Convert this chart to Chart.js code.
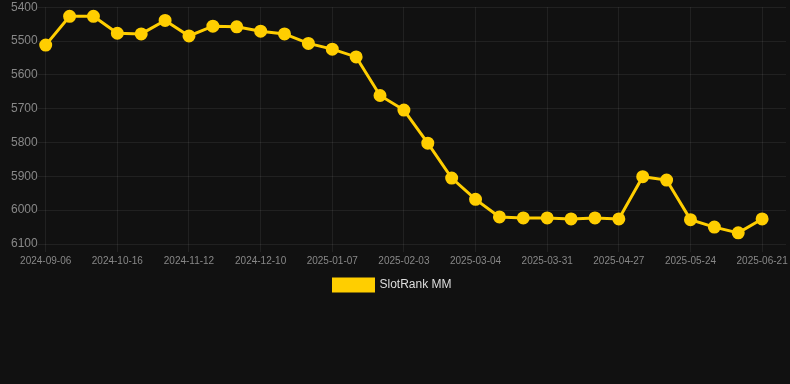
<!DOCTYPE html>
<html>
<head>
<meta charset="utf-8">
<script src="https://cdn.jsdelivr.net/npm/chart.js@4.4.1/dist/chart.umd.min.js"></script>
<style>
  html, body { margin: 0; padding: 0; background: #111111; }
  #wrap { position: relative; width: 790px; height: 302px; }
</style>
</head>
<body>
<div id="wrap"><canvas id="c"></canvas></div>
<script>
const categories = [
  '2024-09-06','2024-09-19','2024-10-02','2024-10-16','2024-10-25','2024-11-03',
  '2024-11-12','2024-11-21','2024-12-01','2024-12-10','2024-12-19','2024-12-29',
  '2025-01-07','2025-01-16','2025-01-25','2025-02-03','2025-02-13','2025-02-22',
  '2025-03-04','2025-03-13','2025-03-22','2025-03-31','2025-04-09','2025-04-18',
  '2025-04-27','2025-05-06','2025-05-15','2025-05-24','2025-06-02','2025-06-11',
  '2025-06-21','2025-06-30'
];
const rankValues = [
  5512, 5427, 5427, 5477, 5479, 5439, 5485, 5456, 5458, 5471, 5479, 5507,
  5524, 5547, 5661, 5704, 5802, 5905, 5968, 6020, 6023, 6023, 6026, 6023,
  6026, 5901, 5911, 6028, 6050, 6067, 6026, null
];
const yTicks = [5400, 5500, 5600, 5700, 5800, 5900, 6000, 6100];

const gold = 'rgb(255, 206, 0)';
const gridColor = 'rgba(255,255,255,0.07)';

const legendShift = {
  id: 'legendShift',
  afterLayout(chart) {
    const lg = chart.legend;
    if (!lg) return;
    lg.left -= 6; lg.right -= 6;
    lg.top -= 1; lg.bottom -= 1;
  }
};

new Chart(document.getElementById('c'), {
  type: 'line',
  data: {
    labels: categories,
    datasets: [{
      label: 'SlotRank MM',
      data: rankValues,
      borderColor: gold,
      backgroundColor: gold,
      borderWidth: 3,
      pointRadius: 5,
      pointHoverRadius: 5,
      pointBackgroundColor: gold,
      pointBorderColor: gold,
      tension: 0,
      fill: false,
      clip: false
    }]
  },
  plugins: [legendShift],
  options: {
    responsive: true,
    maintainAspectRatio: false,
    animation: false,
    layout: { autoPadding: false, padding: { left: 11, right: 4, top: 0, bottom: 0 } },
    scales: {
      x: {
        offset: false,
        grid: { color: gridColor, tickLength: 8 },
        border: { display: false },
        afterFit: (scale) => { scale.paddingRight = 0; scale.paddingLeft = 0; },
        ticks: {
          autoSkip: false,
          maxRotation: 0,
          padding: 3,
          color: '#888888',
          font: { family: 'Liberation Sans, Arial, sans-serif', size: 10 },
          callback: function (value, index) {
            return index % 3 === 0 ? this.getLabelForValue(value) : null;
          }
        }
      },
      y: {
        reverse: true,
        min: yTicks[0],
        max: yTicks[yTicks.length - 1],
        afterBuildTicks: (axis) => { axis.ticks = yTicks.map(v => ({ value: v })); },
        grid: { color: gridColor, tickLength: 8 },
        border: { display: false },
        ticks: {
          color: '#888888',
          padding: 0,
          font: { family: 'Liberation Sans, Arial, sans-serif', size: 12 },
          callback: (v) => String(v)
        }
      }
    },
    plugins: {
      legend: {
        position: 'bottom',
        labels: {
          color: '#dddddd',
          boxWidth: 40,
          boxHeight: 12,
          font: { family: 'Liberation Sans, Arial, sans-serif', size: 12 }
        }
      },
      tooltip: { enabled: false }
    }
  }
});
</script>
</body>
</html>
